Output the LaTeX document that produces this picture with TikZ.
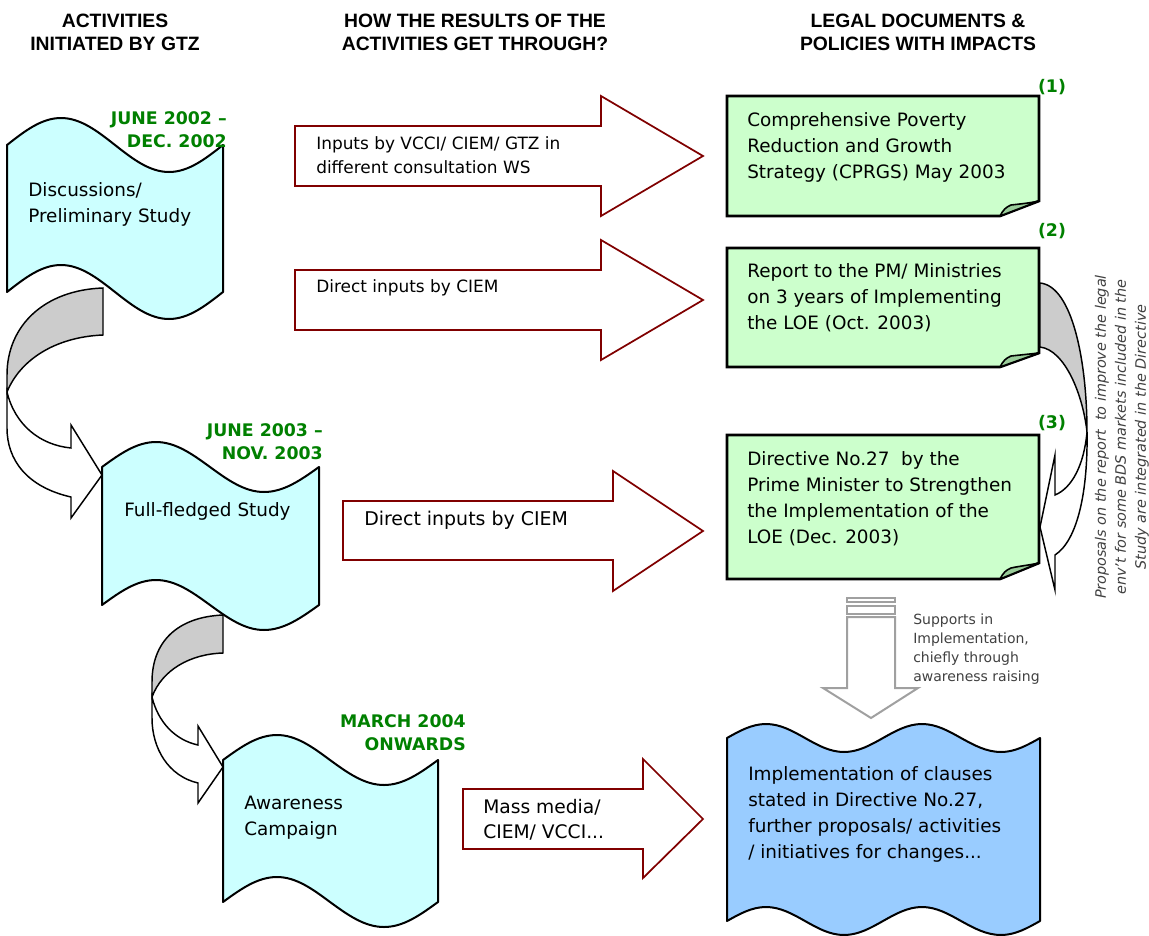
\documentclass[tikz,border=0pt]{standalone}
\usepackage{fontspec}
\setmainfont{DejaVu Sans}
\newfontfamily\headfont{Liberation Sans}
\usetikzlibrary{positioning}

\definecolor{tapecyan}{HTML}{CCFFFF}
\definecolor{notegreen}{HTML}{CCFFCC}
\definecolor{foldgreen}{HTML}{99CC99}
\definecolor{implblue}{HTML}{99CCFF}
\definecolor{backgray}{HTML}{CCCCCC}
\definecolor{arrowred}{HTML}{800000}
\definecolor{dategreen}{HTML}{008000}
\definecolor{supportgray}{HTML}{A0A0A0}
\definecolor{notetext}{HTML}{404040}

\tikzset{
  tape/.style={draw, line width=1.5pt, fill=tapecyan, line join=round},
  implwave/.style={draw, line width=1.5pt, fill=implblue, line join=round},
  legalnote/.style={draw, line width=2pt, fill=notegreen, line join=miter},
  notefold/.style={draw, line width=1.2pt, fill=foldgreen, line join=round},
  inputarrow/.style={draw=arrowred, line width=1.3pt, fill=white},
  bendback/.style={draw, line width=1.1pt, fill=backgray},
  bendfront/.style={draw, line width=1.1pt, fill=white},
  supportarrow/.style={draw=supportgray, line width=1.5pt, fill=white},
  heading/.style={align=center, font=\headfont\bfseries\fontsize{14.5}{17.25}\selectfont},
  datelabel/.style={anchor=east, align=right, text=dategreen, inner sep=0pt,
    font=\bfseries\fontsize{13}{17}\selectfont},
  numlabel/.style={text=dategreen, inner sep=0pt, font=\bfseries\fontsize{13}{15}\selectfont},
  bodytext/.style={anchor=west, align=left, inner sep=0pt, font=\fontsize{13.8}{19.5}\selectfont},
  inputtext/.style={anchor=west, align=left, inner sep=0pt, font=\fontsize{12.7}{18}\selectfont}
}

\begin{document}
\begin{tikzpicture}[x=0.75pt, y=-0.75pt]
  \useasboundingbox (0,0) rectangle (1149,935);

  % column headings
  \node[heading] (headleft) at (115,32) {ACTIVITIES\\INITIATED BY GTZ};
  \node[heading] (headmid) at (475,32) {HOW THE RESULTS OF THE\\ACTIVITIES GET THROUGH?};
  \node[heading] (headright) at (918,32) {LEGAL DOCUMENTS \&\\POLICIES WITH IMPACTS};

  % activities (tapes)
  \draw[tape] (7,145) sin (61,118) cos (115,145) sin (169,172) cos (223,145) -- (223,292)
    sin (169,319) cos (115,292) sin (61,265) cos (7,292) -- cycle;
  \draw[tape] (102,467) sin (156,442) cos (210,467) sin (264,492) cos (319,467) -- (319,605)
    sin (264,630) cos (210,605) sin (156,580) cos (102,605) -- cycle;
  \draw[tape] (223,760) sin (277,735) cos (330,760) sin (384,785) cos (438,760) -- (438,902)
    sin (384,927) cos (330,902) sin (277,877) cos (223,902) -- cycle;

  \node[bodytext] (discuss) at (28,204) {Discussions/\\Preliminary Study};
  \node[bodytext] (fullstudy) at (124,511) {Full-fledged Study};
  \node[bodytext] (campaign) at (244,818) {Awareness\\Campaign};

  \node[datelabel] (date1) at (227,130) {JUNE 2002 --\\DEC. 2002};
  \node[datelabel] (date2) at (323,442) {JUNE 2003 --\\NOV. 2003};
  \node[datelabel] (date3) at (466,733) {MARCH 2004\\ONWARDS};

  % bent arrows between activities
  \draw[bendback] (103,288) .. controls (45,290) and (7,325) .. (7,375) -- (7,392)
    .. controls (20,360) and (55,337) .. (103,335) -- cycle;
  \draw[bendfront] (7,392) .. controls (15,425) and (40,445) .. (71,448) -- (71,425) -- (102,475)
    -- (71,518) -- (71,497) .. controls (27,487) and (7,460) .. (7,428) -- cycle;
  \draw[bendback] (223,615) .. controls (177,617) and (152,642) .. (152,682) -- (152,697)
    .. controls (162,670) and (190,654) .. (223,653) -- cycle;
  \draw[bendfront] (152,697) .. controls (158,722) and (175,740) .. (198,745) -- (198,726) -- (223,767)
    -- (198,803) -- (198,783) .. controls (168,776) and (152,748) .. (152,718) -- cycle;

  % input arrows
  \draw[inputarrow] (295,126) -- (601,126) -- (601,96) -- (703,156) -- (601,216) -- (601,186) -- (295,186) -- cycle;
  \draw[inputarrow] (295,270) -- (601,270) -- (601,240) -- (703,300) -- (601,360) -- (601,330) -- (295,330) -- cycle;
  \draw[inputarrow] (343,501) -- (613,501) -- (613,471) -- (703,531) -- (613,591) -- (613,560) -- (343,560) -- cycle;
  \draw[inputarrow] (463,789) -- (643,789) -- (643,759) -- (703,819) -- (643,878) -- (643,849) -- (463,849) -- cycle;

  \node[inputtext] (input1) at (316,155) {Inputs by VCCI/ CIEM/ GTZ in\\different consultation WS};
  \node[inputtext] (input2) at (316,288) {Direct inputs by CIEM};
  \node[bodytext, font=\fontsize{14.2}{19.5}\selectfont] (input3) at (364,520) {Direct inputs by CIEM};
  \node[bodytext, font=\fontsize{14}{18.75}\selectfont] (input4) at (483,820) {Mass media/\\CIEM/ VCCI...};

  % legal documents
  \draw[legalnote] (727,96) -- (1039,96) -- (1039,201) -- (1000,216) -- (727,216) -- cycle;
  \draw[notefold] (1000,216) .. controls (1003,210) and (1006,207) .. (1011,205)
    .. controls (1020,204) and (1030,203) .. (1039,201) -- cycle;
  \draw[legalnote] (727,248) -- (1039,248) -- (1039,353) -- (1000,367) -- (727,367) -- cycle;
  \draw[notefold] (1000,367) .. controls (1003,361) and (1006,358) .. (1011,356)
    .. controls (1020,355) and (1030,354) .. (1039,353) -- cycle;
  \draw[legalnote] (727,435) -- (1039,435) -- (1039,563) -- (1000,579) -- (727,579) -- cycle;
  \draw[notefold] (1000,579) .. controls (1003,573) and (1006,570) .. (1011,568)
    .. controls (1020,566) and (1030,565) .. (1039,563) -- cycle;

  \node[bodytext] (cprgs) at (747,147) {Comprehensive Poverty\\Reduction and Growth\\Strategy (CPRGS) May 2003};
  \node[bodytext] (report) at (747,298) {Report to the PM/ Ministries\\on 3 years of Implementing\\the LOE (Oct. 2003)};
  \node[bodytext] (directive) at (747,499) {Directive No.27~ by the\\Prime Minister to Strengthen\\the Implementation of the\\LOE (Dec. 2003)};

  \node[numlabel] (num1) at (1052,87) {(1)};
  \node[numlabel] (num2) at (1052,231) {(2)};
  \node[numlabel] (num3) at (1052,423) {(3)};

  % bent arrow from report to directive
  \draw[bendback] (1040,283) .. controls (1072,286) and (1087,360) .. (1087,432)
    .. controls (1083,395) and (1065,350) .. (1040,347) -- cycle;
  \draw[bendfront] (1087,432) .. controls (1084,465) and (1072,488) .. (1055,495) -- (1055,455) -- (1040,527)
    -- (1055,590) -- (1055,555) .. controls (1078,540) and (1088,490) .. (1087,432) -- cycle;

  \node[rotate=90, align=center, text=notetext, font=\itshape\fontsize{10.8}{15}\selectfont] (proposal) at (1122,437)
    {Proposals on the report~ to improve the legal\\env't for some BDS markets included in the\\Study are integrated in the Directive};

  % support arrow
  \draw[supportarrow] (847,598) rectangle (895,602);
  \draw[supportarrow] (847,606) rectangle (895,614);
  \draw[supportarrow] (847,617) -- (895,617) -- (895,688) -- (918,688) -- (871,718) -- (823,688) -- (847,688) -- cycle;
  \node[anchor=west, align=left, inner sep=0pt, text=notetext, font=\fontsize{10.5}{14.25}\selectfont] (support) at (913,649)
    {Supports in\\Implementation,\\chiefly through\\awareness raising};

  % implementation
  \draw[implwave] (727,738) sin (766,724) cos (805,738) sin (844,752) cos (883,738) sin (922,724) cos (961,738)
    sin (1001,752) cos (1040,738) -- (1040,921) sin (1001,935) cos (961,921) sin (922,907) cos (883,921)
    sin (844,935) cos (805,921) sin (766,907) cos (727,921) -- cycle;
  \node[bodytext] (impl) at (748,814) {Implementation of clauses\\stated in Directive No.27,\\further proposals/ activities\\/ initiatives for changes...};
\end{tikzpicture}
\end{document}
